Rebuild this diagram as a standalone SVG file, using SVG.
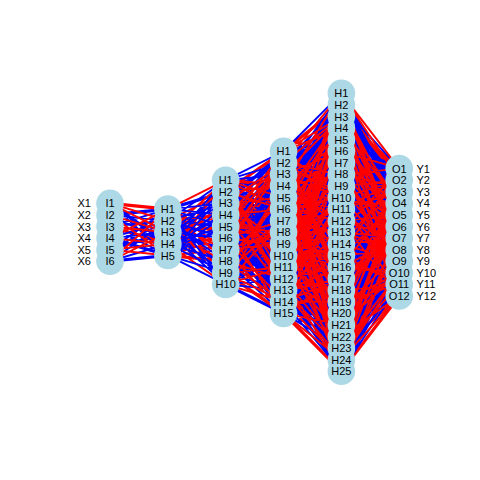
<svg xmlns="http://www.w3.org/2000/svg" width="480" height="480" viewBox="0 0 480 480">
<style>
.e{fill:none;stroke-linejoin:round;vector-effect:non-scaling-stroke}
.bw{stroke:#0000FF;stroke-width:3.2}
.rw{stroke:#FF0000;stroke-width:3.2}
.bt{stroke:#0000FF;stroke-width:1.9}
.rt{stroke:#FF0000;stroke-width:1.9}
.n{fill:#ADD8E6}
text{font-family:"Liberation Sans",Arial,Helvetica,sans-serif;font-size:11px;fill:#000}
.c{text-anchor:middle}
.l{text-anchor:end}
.r{text-anchor:start}
</style>
<rect width="480" height="480" fill="#FFFFFF"/>
<g id="connectors" transform="translate(110 232.3) scale(57.85 5.79)">
<g id="I-H1">
<path class="e bw" vector-effect="non-scaling-stroke" d="M0 -5L1 2M0 -3L1 -4M0 1L1 4M0 3L1 0M0 5L1 4"/>
<path class="e rw" vector-effect="non-scaling-stroke" d="M0 -5L1 -4M0 -1L1 2"/>
<path class="e bt" vector-effect="non-scaling-stroke" d="M0 -5L1 4M0 -3L1 -2 0 -3 1 2M0 -1L1 -4 0 -1 1 -2 0 -1 1 4M0 1L1 -2 0 1 1 0M0 3L1 -4 0 3 1 -2M0 5L1 -2 0 5 1 2"/>
<path class="e rt" vector-effect="non-scaling-stroke" d="M0 -5L1 -2 0 -5 1 0M0 -3L1 0 0 -3 1 4M0 -1L1 0M0 1L1 -4 0 1 1 2M0 3L1 2 0 3 1 4M0 5L1 -4 0 5 1 0"/>
</g>
<g id="H1-H2">
<path class="e rw" vector-effect="non-scaling-stroke" d="M1 -4L2 1M1 -2L2 -3M1 0L2 -1M1 2L2 1M1 4L2 -9 1 4 2 5"/>
<path class="e bw" vector-effect="non-scaling-stroke" d="M1 -4L2 -7 1 -4 2 7M1 -2L2 -1M1 0L2 3M1 2L2 -3M1 4L2 -1"/>
<path class="e rt" vector-effect="non-scaling-stroke" d="M1 -4L2 -9 1 -4 2 3 1 -4 2 5M1 -2L2 -7 1 -2 2 3 1 -2 2 7M1 0L2 -9 1 0 2 -3 1 0 2 5M1 2L2 -5 1 2 2 3 1 2 2 9M1 4L2 1 1 4 2 3"/>
<path class="e bt" vector-effect="non-scaling-stroke" d="M1 -4L2 -5 1 -4 2 -3 1 -4 2 -1 1 -4 2 9M1 -2L2 -9 1 -2 2 -5 1 -2 2 1 1 -2 2 5 1 -2 2 9M1 0L2 -7 1 0 2 -5 1 0 2 1 1 0 2 7 1 0 2 9M1 2L2 -9 1 2 2 -7 1 2 2 -1 1 2 2 5 1 2 2 7M1 4L2 -7 1 4 2 -5 1 4 2 -3 1 4 2 7 1 4 2 9"/>
</g>
<g id="H2-H3">
<path class="e bw" vector-effect="non-scaling-stroke" d="M2 -9L3 -2 2 -9 3 12M2 -7L3 -12 2 -7 3 2M2 -5L3 -14 2 -5 3 0 2 -5 3 14M2 -3L3 -10 2 -3 3 4M2 -1L3 -2 2 -1 3 12M2 1L3 -8 2 1 3 6M2 3L3 -10 2 3 3 4M2 5L3 -10 2 5 3 4M2 7L3 -10 2 7 3 4M2 9L3 -14 2 9 3 0 2 9 3 14"/>
<path class="e rw" vector-effect="non-scaling-stroke" d="M2 -9L3 -8 2 -9 3 6M2 -7L3 -14 2 -7 3 0 2 -7 3 14M2 -5L3 -4 2 -5 3 10M2 -3L3 -6 2 -3 3 8M2 -1L3 -10 2 -1 3 4M2 1L3 -6 2 1 3 8M2 3L3 -2 2 3 3 12M2 5L3 -12 2 5 3 2M2 7L3 -14 2 7 3 0 2 7 3 14M2 9L3 -10 2 9 3 4"/>
<path class="e bt" vector-effect="non-scaling-stroke" d="M2 -9L3 -14 2 -9 3 -12 2 -9 3 -10 2 -9 3 0 2 -9 3 2 2 -9 3 4 2 -9 3 14M2 -7L3 -10 2 -7 3 -6 2 -7 3 -2 2 -7 3 4 2 -7 3 8 2 -7 3 12M2 -5L3 -10 2 -5 3 -8 2 -5 3 -2 2 -5 3 4 2 -5 3 6 2 -5 3 12M2 -3L3 -14 2 -3 3 -8 2 -3 3 -2 2 -3 3 0 2 -3 3 6 2 -3 3 12 2 -3 3 14M2 -1L3 -8 2 -1 3 -6 2 -1 3 -4 2 -1 3 6 2 -1 3 8 2 -1 3 10M2 1L3 -14 2 1 3 -10 2 1 3 -4 2 1 3 0 2 1 3 4 2 1 3 10 2 1 3 14M2 3L3 -8 2 3 3 -6 2 3 3 -4 2 3 3 6 2 3 3 8 2 3 3 10M2 5L3 -14 2 5 3 -8 2 5 3 -4 2 5 3 0 2 5 3 6 2 5 3 10 2 5 3 14M2 7L3 -12 2 7 3 -6 2 7 3 -4 2 7 3 2 2 7 3 8 2 7 3 10M2 9L3 -12 2 9 3 -6 2 9 3 -4 2 9 3 2 2 9 3 8 2 9 3 10"/>
<path class="e rt" vector-effect="non-scaling-stroke" d="M2 -9L3 -6 2 -9 3 -4 2 -9 3 8 2 -9 3 10M2 -7L3 -8 2 -7 3 -4 2 -7 3 6 2 -7 3 10M2 -5L3 -12 2 -5 3 -6 2 -5 3 2 2 -5 3 8M2 -3L3 -12 2 -3 3 -4 2 -3 3 2 2 -3 3 10M2 -1L3 -14 2 -1 3 -12 2 -1 3 0 2 -1 3 2 2 -1 3 14M2 1L3 -12 2 1 3 -2 2 1 3 2 2 1 3 12M2 3L3 -14 2 3 3 -12 2 3 3 0 2 3 3 2 2 3 3 14M2 5L3 -6 2 5 3 -2 2 5 3 8 2 5 3 12M2 7L3 -8 2 7 3 -2 2 7 3 6 2 7 3 12M2 9L3 -8 2 9 3 -2 2 9 3 6 2 9 3 12"/>
</g>
<g id="H3-H4">
<path class="e rw" vector-effect="non-scaling-stroke" d="M3 -14L4 -22 3 -14 4 -8 3 -14 4 6 3 -14 4 20M3 -12L4 -16 3 -12 4 -2 3 -12 4 12M3 -10L4 -12 3 -10 4 2 3 -10 4 16M3 -8L4 -18 3 -8 4 -4 3 -8 4 10 3 -8 4 24M3 -6L4 -16 3 -6 4 -2 3 -6 4 12M3 -4L4 -24 3 -4 4 -10 3 -4 4 4 3 -4 4 18M3 -2L4 -16 3 -2 4 -2 3 -2 4 12M3 0L4 -14 3 0 4 0 3 0 4 14M3 2L4 -22 3 2 4 -8 3 2 4 6 3 2 4 20M3 4L4 -22 3 4 4 -8 3 4 4 6 3 4 4 20M3 6L4 -22 3 6 4 -8 3 6 4 6 3 6 4 20M3 8L4 -12 3 8 4 2 3 8 4 16M3 10L4 -24 3 10 4 -10 3 10 4 4 3 10 4 18M3 12L4 -12 3 12 4 2 3 12 4 16M3 14L4 -18 3 14 4 -4 3 14 4 10 3 14 4 24"/>
<path class="e bw" vector-effect="non-scaling-stroke" d="M3 -14L4 -16 3 -14 4 -2 3 -14 4 12M3 -12L4 -14 3 -12 4 0 3 -12 4 14M3 -10L4 -22 3 -10 4 -8 3 -10 4 6 3 -10 4 20M3 -8L4 -22 3 -8 4 -8 3 -8 4 6 3 -8 4 20M3 -6L4 -22 3 -6 4 -8 3 -6 4 6 3 -6 4 20M3 -4L4 -12 3 -4 4 2 3 -4 4 16M3 -2L4 -24 3 -2 4 -10 3 -2 4 4 3 -2 4 18M3 0L4 -12 3 0 4 2 3 0 4 16M3 2L4 -18 3 2 4 -4 3 2 4 10 3 2 4 24M3 4L4 -12 3 4 4 2 3 4 4 16M3 6L4 -14 3 6 4 0 3 6 4 14M3 8L4 -14 3 8 4 0 3 8 4 14M3 10L4 -18 3 10 4 -4 3 10 4 10 3 10 4 24M3 12L4 -24 3 12 4 -10 3 12 4 4 3 12 4 18M3 14L4 -14 3 14 4 0 3 14 4 14"/>
<path class="e bt" vector-effect="non-scaling-stroke" d="M3 -14L4 -24 3 -14 4 -10 3 -14 4 4 3 -14 4 18 3 -14 4 -14 3 -14 4 0 3 -14 4 14 3 -14 4 -12 3 -14 4 2 3 -14 4 16M3 -12L4 -22 3 -12 4 -8 3 -12 4 6 3 -12 4 20 3 -12 4 -18 3 -12 4 -4 3 -12 4 10 3 -12 4 24 3 -12 4 -12 3 -12 4 2 3 -12 4 16M3 -10L4 -24 3 -10 4 -10 3 -10 4 4 3 -10 4 18 3 -10 4 -18 3 -10 4 -4 3 -10 4 10 3 -10 4 24 3 -10 4 -16 3 -10 4 -2 3 -10 4 12M3 -8L4 -20 3 -8 4 -6 3 -8 4 8 3 -8 4 22 3 -8 4 -14 3 -8 4 0 3 -8 4 14 3 -8 4 -12 3 -8 4 2 3 -8 4 16M3 -6L4 -24 3 -6 4 -10 3 -6 4 4 3 -6 4 18 3 -6 4 -14 3 -6 4 0 3 -6 4 14 3 -6 4 -12 3 -6 4 2 3 -6 4 16M3 -4L4 -22 3 -4 4 -8 3 -4 4 6 3 -4 4 20 3 -4 4 -18 3 -4 4 -4 3 -4 4 10 3 -4 4 24 3 -4 4 -14 3 -4 4 0 3 -4 4 14M3 -2L4 -22 3 -2 4 -8 3 -2 4 6 3 -2 4 20 3 -2 4 -20 3 -2 4 -6 3 -2 4 8 3 -2 4 22 3 -2 4 -18 3 -2 4 -4 3 -2 4 10 3 -2 4 24M3 0L4 -24 3 0 4 -10 3 0 4 4 3 0 4 18 3 0 4 -20 3 0 4 -6 3 0 4 8 3 0 4 22 3 0 4 -16 3 0 4 -2 3 0 4 12M3 2L4 -20 3 2 4 -6 3 2 4 8 3 2 4 22 3 2 4 -14 3 2 4 0 3 2 4 14 3 2 4 -12 3 2 4 2 3 2 4 16M3 4L4 -24 3 4 4 -10 3 4 4 4 3 4 4 18 3 4 4 -18 3 4 4 -4 3 4 4 10 3 4 4 24 3 4 4 -16 3 4 4 -2 3 4 4 12M3 6L4 -20 3 6 4 -6 3 6 4 8 3 6 4 22 3 6 4 -18 3 6 4 -4 3 6 4 10 3 6 4 24 3 6 4 -16 3 6 4 -2 3 6 4 12M3 8L4 -24 3 8 4 -10 3 8 4 4 3 8 4 18 3 8 4 -20 3 8 4 -6 3 8 4 8 3 8 4 22 3 8 4 -16 3 8 4 -2 3 8 4 12M3 10L4 -16 3 10 4 -2 3 10 4 12 3 10 4 -14 3 10 4 0 3 10 4 14 3 10 4 -12 3 10 4 2 3 10 4 16M3 12L4 -22 3 12 4 -8 3 12 4 6 3 12 4 20 3 12 4 -18 3 12 4 -4 3 12 4 10 3 12 4 24 3 12 4 -14 3 12 4 0 3 12 4 14M3 14L4 -24 3 14 4 -10 3 14 4 4 3 14 4 18 3 14 4 -22 3 14 4 -8 3 14 4 6 3 14 4 20 3 14 4 -16 3 14 4 -2 3 14 4 12"/>
<path class="e rt" vector-effect="non-scaling-stroke" d="M3 -14L4 -20 3 -14 4 -6 3 -14 4 8 3 -14 4 22 3 -14 4 -18 3 -14 4 -4 3 -14 4 10 3 -14 4 24M3 -12L4 -24 3 -12 4 -10 3 -12 4 4 3 -12 4 18 3 -12 4 -20 3 -12 4 -6 3 -12 4 8 3 -12 4 22M3 -10L4 -20 3 -10 4 -6 3 -10 4 8 3 -10 4 22 3 -10 4 -14 3 -10 4 0 3 -10 4 14M3 -8L4 -24 3 -8 4 -10 3 -8 4 4 3 -8 4 18 3 -8 4 -16 3 -8 4 -2 3 -8 4 12M3 -6L4 -20 3 -6 4 -6 3 -6 4 8 3 -6 4 22 3 -6 4 -18 3 -6 4 -4 3 -6 4 10 3 -6 4 24M3 -4L4 -20 3 -4 4 -6 3 -4 4 8 3 -4 4 22 3 -4 4 -16 3 -4 4 -2 3 -4 4 12M3 -2L4 -14 3 -2 4 0 3 -2 4 14 3 -2 4 -12 3 -2 4 2 3 -2 4 16M3 0L4 -22 3 0 4 -8 3 0 4 6 3 0 4 20 3 0 4 -18 3 0 4 -4 3 0 4 10 3 0 4 24M3 2L4 -24 3 2 4 -10 3 2 4 4 3 2 4 18 3 2 4 -16 3 2 4 -2 3 2 4 12M3 4L4 -20 3 4 4 -6 3 4 4 8 3 4 4 22 3 4 4 -14 3 4 4 0 3 4 4 14M3 6L4 -24 3 6 4 -10 3 6 4 4 3 6 4 18 3 6 4 -12 3 6 4 2 3 6 4 16M3 8L4 -22 3 8 4 -8 3 8 4 6 3 8 4 20 3 8 4 -18 3 8 4 -4 3 8 4 10 3 8 4 24M3 10L4 -22 3 10 4 -8 3 10 4 6 3 10 4 20 3 10 4 -20 3 10 4 -6 3 10 4 8 3 10 4 22M3 12L4 -20 3 12 4 -6 3 12 4 8 3 12 4 22 3 12 4 -16 3 12 4 -2 3 12 4 12M3 14L4 -20 3 14 4 -6 3 14 4 8 3 14 4 22 3 14 4 -12 3 14 4 2 3 14 4 16"/>
</g>
<g id="H4-O">
<path class="e bw" vector-effect="non-scaling-stroke" d="M4 -24L5 -7 4 -24 5 7M4 -22L5 -7 4 -22 5 7M4 -20L5 -7 4 -20 5 7M4 -18L5 -11 4 -18 5 3M4 -16L5 -5 4 -16 5 9M4 -14L5 -7 4 -14 5 7M4 -12L5 -1M4 -10L5 -5 4 -10 5 9M4 -8L5 -3 4 -8 5 11M4 -6L5 -1M4 -4L5 -11 4 -4 5 3M4 -2L5 -9 4 -2 5 5M4 0L5 -9 4 0 5 5M4 2L5 -3 4 2 5 11M4 4L5 1M4 6L5 -5 4 6 5 9M4 8L5 -3 4 8 5 11M4 10L5 -11 4 10 5 3M4 12L5 -3 4 12 5 11M4 14L5 -1M4 16L5 -9 4 16 5 5M4 18L5 -9 4 18 5 5M4 20L5 -9 4 20 5 5M4 22L5 1M4 24L5 -11 4 24 5 3"/>
<path class="e rw" vector-effect="non-scaling-stroke" d="M4 -24L5 1M4 -22L5 -9 4 -22 5 5M4 -20L5 -11 4 -20 5 3M4 -18L5 -7 4 -18 5 7M4 -16L5 1M4 -14L5 -5 4 -14 5 9M4 -12L5 -7 4 -12 5 7M4 -10L5 -7 4 -10 5 7M4 -8L5 -7 4 -8 5 7M4 -6L5 -11 4 -6 5 3M4 -4L5 -5 4 -4 5 9M4 -2L5 -7 4 -2 5 7M4 0L5 -1M4 2L5 -5 4 2 5 9M4 4L5 -3 4 4 5 11M4 6L5 -1M4 8L5 -11 4 8 5 3M4 10L5 -9 4 10 5 5M4 12L5 -9 4 12 5 5M4 14L5 -3 4 14 5 11M4 16L5 1M4 18L5 -5 4 18 5 9M4 20L5 -3 4 20 5 11M4 22L5 -11 4 22 5 3M4 24L5 -3 4 24 5 11"/>
<path class="e bt" vector-effect="non-scaling-stroke" d="M4 -24L5 -5 4 -24 5 9 4 -24 5 -3 4 -24 5 11 4 -24 5 -1M4 -22L5 -11 4 -22 5 3 4 -22 5 -5 4 -22 5 9 4 -22 5 -1M4 -20L5 -9 4 -20 5 5 4 -20 5 -3 4 -20 5 11 4 -20 5 -1M4 -18L5 -9 4 -18 5 5 4 -18 5 -3 4 -18 5 11 4 -18 5 -1M4 -16L5 -11 4 -16 5 3 4 -16 5 -9 4 -16 5 5 4 -16 5 -7 4 -16 5 7M4 -14L5 -9 4 -14 5 5 4 -14 5 -3 4 -14 5 11 4 -14 5 1M4 -12L5 -11 4 -12 5 3 4 -12 5 -9 4 -12 5 5 4 -12 5 1M4 -10L5 -9 4 -10 5 5 4 -10 5 -3 4 -10 5 11 4 -10 5 1M4 -8L5 -11 4 -8 5 3 4 -8 5 -5 4 -8 5 9 4 -8 5 1M4 -6L5 -7 4 -6 5 7 4 -6 5 -5 4 -6 5 9 4 -6 5 1M4 -4L5 -3 4 -4 5 11 4 -4 5 -1 4 -4 5 1M4 -2L5 -11 4 -2 5 3 4 -2 5 -5 4 -2 5 9 4 -2 5 -1M4 0L5 -7 4 0 5 7 4 0 5 -5 4 0 5 9 4 0 5 -3 4 0 5 11M4 2L5 -11 4 2 5 3 4 2 5 -7 4 2 5 7 4 2 5 -1M4 4L5 -9 4 4 5 5 4 4 5 -7 4 4 5 7 4 4 5 -1M4 6L5 -11 4 6 5 3 4 6 5 -9 4 6 5 5 4 6 5 -3 4 6 5 11M4 8L5 -9 4 8 5 5 4 8 5 -7 4 8 5 7 4 8 5 -5 4 8 5 9M4 10L5 -7 4 10 5 7 4 10 5 -3 4 10 5 11 4 10 5 1M4 12L5 -11 4 12 5 3 4 12 5 -1 4 12 5 1M4 14L5 -9 4 14 5 5 4 14 5 -5 4 14 5 9 4 14 5 1M4 16L5 -11 4 16 5 3 4 16 5 -5 4 16 5 9 4 16 5 -3 4 16 5 11M4 18L5 -7 4 18 5 7 4 18 5 -1 4 18 5 1M4 20L5 -11 4 20 5 3 4 20 5 -1 4 20 5 1M4 22L5 -9 4 22 5 5 4 22 5 -5 4 22 5 9 4 22 5 -1M4 24L5 -9 4 24 5 5 4 24 5 -7 4 24 5 7 4 24 5 -5 4 24 5 9"/>
<path class="e rt" vector-effect="non-scaling-stroke" d="M4 -24L5 -11 4 -24 5 3 4 -24 5 -9 4 -24 5 5M4 -22L5 -3 4 -22 5 11 4 -22 5 1M4 -20L5 -5 4 -20 5 9 4 -20 5 1M4 -18L5 -5 4 -18 5 9 4 -18 5 1M4 -16L5 -3 4 -16 5 11 4 -16 5 -1M4 -14L5 -11 4 -14 5 3 4 -14 5 -1M4 -12L5 -5 4 -12 5 9 4 -12 5 -3 4 -12 5 11M4 -10L5 -11 4 -10 5 3 4 -10 5 -1M4 -8L5 -9 4 -8 5 5 4 -8 5 -1M4 -6L5 -9 4 -6 5 5 4 -6 5 -3 4 -6 5 11M4 -4L5 -9 4 -4 5 5 4 -4 5 -7 4 -4 5 7M4 -2L5 -3 4 -2 5 11 4 -2 5 1M4 0L5 -11 4 0 5 3 4 0 5 1M4 2L5 -9 4 2 5 5 4 2 5 1M4 4L5 -11 4 4 5 3 4 4 5 -5 4 4 5 9M4 6L5 -7 4 6 5 7 4 6 5 1M4 8L5 -1 4 8 5 1M4 10L5 -5 4 10 5 9 4 10 5 -1M4 12L5 -7 4 12 5 7 4 12 5 -5 4 12 5 9M4 14L5 -11 4 14 5 3 4 14 5 -7 4 14 5 7M4 16L5 -7 4 16 5 7 4 16 5 -1M4 18L5 -11 4 18 5 3 4 18 5 -3 4 18 5 11M4 20L5 -7 4 20 5 7 4 20 5 -5 4 20 5 9M4 22L5 -7 4 22 5 7 4 22 5 -3 4 22 5 11M4 24L5 -1 4 24 5 1"/>
</g>
</g>
<g id="nodes">
<g id="I1"><circle class="n" cx="110" cy="203.4" r="13.8"/></g>
<g id="I2"><circle class="n" cx="110" cy="214.9" r="13.8"/></g>
<g id="I3"><circle class="n" cx="110" cy="226.5" r="13.8"/></g>
<g id="I4"><circle class="n" cx="110" cy="238.1" r="13.8"/></g>
<g id="I5"><circle class="n" cx="110" cy="249.7" r="13.8"/></g>
<g id="I6"><circle class="n" cx="110" cy="261.3" r="13.8"/></g>
<g id="L1H1"><circle class="n" cx="167.85" cy="209.1" r="13.8"/></g>
<g id="L1H2"><circle class="n" cx="167.85" cy="220.7" r="13.8"/></g>
<g id="L1H3"><circle class="n" cx="167.85" cy="232.3" r="13.8"/></g>
<g id="L1H4"><circle class="n" cx="167.85" cy="243.9" r="13.8"/></g>
<g id="L1H5"><circle class="n" cx="167.85" cy="255.5" r="13.8"/></g>
<g id="L2H1"><circle class="n" cx="225.7" cy="180.2" r="13.8"/></g>
<g id="L2H2"><circle class="n" cx="225.7" cy="191.8" r="13.8"/></g>
<g id="L2H3"><circle class="n" cx="225.7" cy="203.4" r="13.8"/></g>
<g id="L2H4"><circle class="n" cx="225.7" cy="214.9" r="13.8"/></g>
<g id="L2H5"><circle class="n" cx="225.7" cy="226.5" r="13.8"/></g>
<g id="L2H6"><circle class="n" cx="225.7" cy="238.1" r="13.8"/></g>
<g id="L2H7"><circle class="n" cx="225.7" cy="249.7" r="13.8"/></g>
<g id="L2H8"><circle class="n" cx="225.7" cy="261.3" r="13.8"/></g>
<g id="L2H9"><circle class="n" cx="225.7" cy="272.8" r="13.8"/></g>
<g id="L2H10"><circle class="n" cx="225.7" cy="284.4" r="13.8"/></g>
<g id="L3H1"><circle class="n" cx="283.55" cy="151.2" r="13.8"/></g>
<g id="L3H2"><circle class="n" cx="283.55" cy="162.8" r="13.8"/></g>
<g id="L3H3"><circle class="n" cx="283.55" cy="174.4" r="13.8"/></g>
<g id="L3H4"><circle class="n" cx="283.55" cy="186" r="13.8"/></g>
<g id="L3H5"><circle class="n" cx="283.55" cy="197.6" r="13.8"/></g>
<g id="L3H6"><circle class="n" cx="283.55" cy="209.1" r="13.8"/></g>
<g id="L3H7"><circle class="n" cx="283.55" cy="220.7" r="13.8"/></g>
<g id="L3H8"><circle class="n" cx="283.55" cy="232.3" r="13.8"/></g>
<g id="L3H9"><circle class="n" cx="283.55" cy="243.9" r="13.8"/></g>
<g id="L3H10"><circle class="n" cx="283.55" cy="255.5" r="13.8"/></g>
<g id="L3H11"><circle class="n" cx="283.55" cy="267" r="13.8"/></g>
<g id="L3H12"><circle class="n" cx="283.55" cy="278.6" r="13.8"/></g>
<g id="L3H13"><circle class="n" cx="283.55" cy="290.2" r="13.8"/></g>
<g id="L3H14"><circle class="n" cx="283.55" cy="301.8" r="13.8"/></g>
<g id="L3H15"><circle class="n" cx="283.55" cy="313.4" r="13.8"/></g>
<g id="L4H1"><circle class="n" cx="341.4" cy="93.3" r="13.8"/></g>
<g id="L4H2"><circle class="n" cx="341.4" cy="104.9" r="13.8"/></g>
<g id="L4H3"><circle class="n" cx="341.4" cy="116.5" r="13.8"/></g>
<g id="L4H4"><circle class="n" cx="341.4" cy="128.1" r="13.8"/></g>
<g id="L4H5"><circle class="n" cx="341.4" cy="139.7" r="13.8"/></g>
<g id="L4H6"><circle class="n" cx="341.4" cy="151.2" r="13.8"/></g>
<g id="L4H7"><circle class="n" cx="341.4" cy="162.8" r="13.8"/></g>
<g id="L4H8"><circle class="n" cx="341.4" cy="174.4" r="13.8"/></g>
<g id="L4H9"><circle class="n" cx="341.4" cy="186" r="13.8"/></g>
<g id="L4H10"><circle class="n" cx="341.4" cy="197.6" r="13.8"/></g>
<g id="L4H11"><circle class="n" cx="341.4" cy="209.1" r="13.8"/></g>
<g id="L4H12"><circle class="n" cx="341.4" cy="220.7" r="13.8"/></g>
<g id="L4H13"><circle class="n" cx="341.4" cy="232.3" r="13.8"/></g>
<g id="L4H14"><circle class="n" cx="341.4" cy="243.9" r="13.8"/></g>
<g id="L4H15"><circle class="n" cx="341.4" cy="255.5" r="13.8"/></g>
<g id="L4H16"><circle class="n" cx="341.4" cy="267" r="13.8"/></g>
<g id="L4H17"><circle class="n" cx="341.4" cy="278.6" r="13.8"/></g>
<g id="L4H18"><circle class="n" cx="341.4" cy="290.2" r="13.8"/></g>
<g id="L4H19"><circle class="n" cx="341.4" cy="301.8" r="13.8"/></g>
<g id="L4H20"><circle class="n" cx="341.4" cy="313.4" r="13.8"/></g>
<g id="L4H21"><circle class="n" cx="341.4" cy="324.9" r="13.8"/></g>
<g id="L4H22"><circle class="n" cx="341.4" cy="336.5" r="13.8"/></g>
<g id="L4H23"><circle class="n" cx="341.4" cy="348.1" r="13.8"/></g>
<g id="L4H24"><circle class="n" cx="341.4" cy="359.7" r="13.8"/></g>
<g id="L4H25"><circle class="n" cx="341.4" cy="371.3" r="13.8"/></g>
<g id="O1"><circle class="n" cx="399.25" cy="168.6" r="13.8"/></g>
<g id="O2"><circle class="n" cx="399.25" cy="180.2" r="13.8"/></g>
<g id="O3"><circle class="n" cx="399.25" cy="191.8" r="13.8"/></g>
<g id="O4"><circle class="n" cx="399.25" cy="203.4" r="13.8"/></g>
<g id="O5"><circle class="n" cx="399.25" cy="214.9" r="13.8"/></g>
<g id="O6"><circle class="n" cx="399.25" cy="226.5" r="13.8"/></g>
<g id="O7"><circle class="n" cx="399.25" cy="238.1" r="13.8"/></g>
<g id="O8"><circle class="n" cx="399.25" cy="249.7" r="13.8"/></g>
<g id="O9"><circle class="n" cx="399.25" cy="261.3" r="13.8"/></g>
<g id="O10"><circle class="n" cx="399.25" cy="272.8" r="13.8"/></g>
<g id="O11"><circle class="n" cx="399.25" cy="284.4" r="13.8"/></g>
<g id="O12"><circle class="n" cx="399.25" cy="296" r="13.8"/></g>
</g>
<g id="labels">
<g class="c">
<text x="110" y="207.4">I1</text><text x="110" y="218.9">I2</text><text x="110" y="230.5">I3</text><text x="110" y="242.1">I4</text><text x="110" y="253.7">I5</text><text x="110" y="265.3">I6</text>
<text x="167.85" y="213.1">H1</text><text x="167.85" y="224.7">H2</text><text x="167.85" y="236.3">H3</text><text x="167.85" y="247.9">H4</text><text x="167.85" y="259.5">H5</text>
<text x="225.7" y="184.2">H1</text><text x="225.7" y="195.8">H2</text><text x="225.7" y="207.4">H3</text><text x="225.7" y="218.9">H4</text><text x="225.7" y="230.5">H5</text><text x="225.7" y="242.1">H6</text><text x="225.7" y="253.7">H7</text><text x="225.7" y="265.3">H8</text><text x="225.7" y="276.8">H9</text><text x="225.7" y="288.4">H10</text>
<text x="283.55" y="155.2">H1</text><text x="283.55" y="166.8">H2</text><text x="283.55" y="178.4">H3</text><text x="283.55" y="190">H4</text><text x="283.55" y="201.6">H5</text><text x="283.55" y="213.1">H6</text><text x="283.55" y="224.7">H7</text><text x="283.55" y="236.3">H8</text><text x="283.55" y="247.9">H9</text><text x="283.55" y="259.5">H10</text><text x="283.55" y="271">H11</text><text x="283.55" y="282.6">H12</text><text x="283.55" y="294.2">H13</text><text x="283.55" y="305.8">H14</text><text x="283.55" y="317.4">H15</text>
<text x="341.4" y="97.3">H1</text><text x="341.4" y="108.9">H2</text><text x="341.4" y="120.5">H3</text><text x="341.4" y="132.1">H4</text><text x="341.4" y="143.7">H5</text><text x="341.4" y="155.2">H6</text><text x="341.4" y="166.8">H7</text><text x="341.4" y="178.4">H8</text><text x="341.4" y="190">H9</text><text x="341.4" y="201.6">H10</text><text x="341.4" y="213.1">H11</text><text x="341.4" y="224.7">H12</text><text x="341.4" y="236.3">H13</text><text x="341.4" y="247.9">H14</text><text x="341.4" y="259.5">H15</text><text x="341.4" y="271">H16</text><text x="341.4" y="282.6">H17</text><text x="341.4" y="294.2">H18</text><text x="341.4" y="305.8">H19</text><text x="341.4" y="317.4">H20</text><text x="341.4" y="328.9">H21</text><text x="341.4" y="340.5">H22</text><text x="341.4" y="352.1">H23</text><text x="341.4" y="363.7">H24</text><text x="341.4" y="375.3">H25</text>
<text x="399.25" y="172.6">O1</text><text x="399.25" y="184.2">O2</text><text x="399.25" y="195.8">O3</text><text x="399.25" y="207.4">O4</text><text x="399.25" y="218.9">O5</text><text x="399.25" y="230.5">O6</text><text x="399.25" y="242.1">O7</text><text x="399.25" y="253.7">O8</text><text x="399.25" y="265.3">O9</text><text x="399.25" y="276.8">O10</text><text x="399.25" y="288.4">O11</text><text x="399.25" y="300">O12</text>
</g>
<g class="l">
<text x="91" y="207.4">X1</text><text x="91" y="218.9">X2</text><text x="91" y="230.5">X3</text><text x="91" y="242.1">X4</text><text x="91" y="253.7">X5</text><text x="91" y="265.3">X6</text>
</g>
<g class="r">
<text x="416.5" y="172.6">Y1</text><text x="416.5" y="184.2">Y2</text><text x="416.5" y="195.8">Y3</text><text x="416.5" y="207.4">Y4</text><text x="416.5" y="218.9">Y5</text><text x="416.5" y="230.5">Y6</text><text x="416.5" y="242.1">Y7</text><text x="416.5" y="253.7">Y8</text><text x="416.5" y="265.3">Y9</text><text x="416.5" y="276.8">Y10</text><text x="416.5" y="288.4">Y11</text><text x="416.5" y="300">Y12</text>
</g>
</g>
</svg>
